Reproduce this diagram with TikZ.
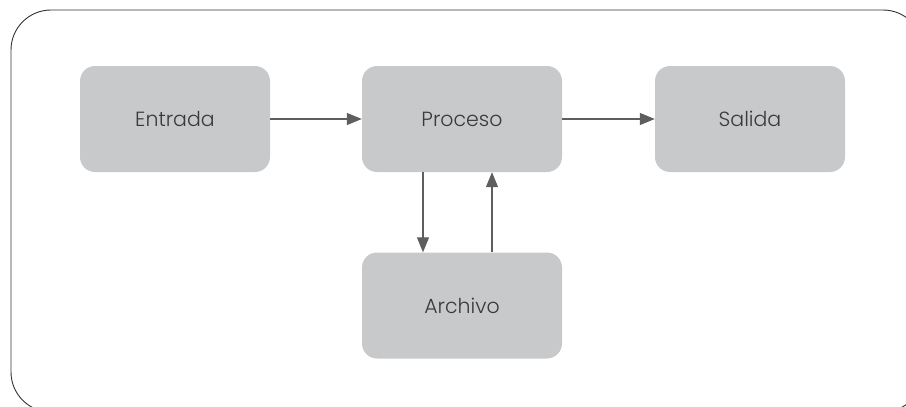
\documentclass[tikz,border=0pt]{standalone}
\usepackage{fontspec}
\setmainfont{Poppins Light}
\usetikzlibrary{arrows.meta,positioning}

\definecolor{boxgray}{HTML}{C8C9CB}
\definecolor{linegray}{HTML}{5E5E5E}
\definecolor{textgray}{HTML}{3A3A3A}

\begin{document}
\begin{tikzpicture}[
  x=1pt, y=-1pt,
  box/.style={rounded corners=15pt, fill=boxgray, draw=none, minimum width=190pt, minimum height=106pt,
    inner sep=0pt, text=textgray, font=\fontsize{20.5}{24}\selectfont},
  wide/.style={minimum width=200pt},
  flow/.style={-{Triangle[length=15pt, width=12pt]}, draw=linegray, line width=1.3pt},
  frame/.style={draw=black!80, line width=0.9pt, rounded corners=40pt},
]
\useasboundingbox (0,0) rectangle (906,407);
\clip (0,0) rectangle (906,407);

% ---------- outer frame ----------
\draw[frame] (11,10) rectangle (923,412);

% ---------- blocks ----------
\node[box] (Entrada) at (175,119) {Entrada};
\node[box, wide] (Proceso) at (462,119) {Proceso};
\node[box] (Salida)  at (750,119) {Salida};
\node[box, wide] (Archivo) at (462,305.5) {Archivo};

% ---------- connectors ----------
\draw[flow] (Entrada.east) -- (Proceso.west);
\draw[flow] (Proceso.east) -- (Salida.west);
\draw[flow] ([xshift=-39pt]Proceso.south) -- ([xshift=-39pt]Archivo.north);
\draw[flow] ([xshift=30pt]Archivo.north) -- ([xshift=30pt]Proceso.south);
\end{tikzpicture}
\end{document}
